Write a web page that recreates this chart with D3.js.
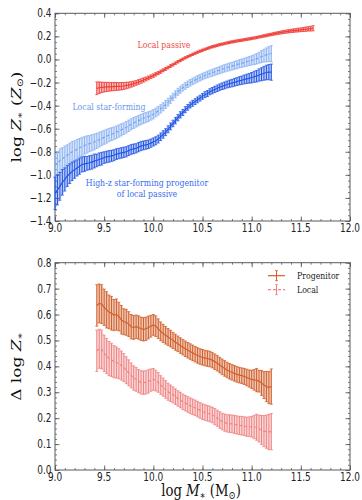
<!DOCTYPE html>
<html>
<head>
<meta charset="utf-8">
<script src="https://cdn.jsdelivr.net/npm/d3@7"></script>
<style>
  html, body { margin: 0; padding: 0; background: #fff; }
  svg { display: block; }
</style>
</head>
<body>
<svg id="chart" width="362" height="500"></svg>
<script>
// ---- stellar mass grids (log M*, Msun) ----
const massTop = [9.000,9.025,9.050,9.075,9.100,9.125,9.150,9.175,9.200,9.225,9.250,9.275,9.300,9.325,9.350,9.375,9.400,9.425,9.450,9.475,9.500,9.525,9.550,9.575,9.600,9.625,9.650,9.675,9.700,9.725,9.750,9.775,9.800,9.825,9.850,9.875,9.900,9.925,9.950,9.975,
  10.000,10.025,10.050,10.075,10.100,10.125,10.150,10.175,10.200,10.225,10.250,10.275,10.300,10.325,10.350,10.375,10.400,10.425,10.450,10.475,10.500,10.525,10.550,10.575,10.600,10.625,10.650,10.675,10.700,10.725,10.750,10.775,10.800,10.825,10.850,10.875,10.900,10.925,10.950,10.975,
  11.000,11.025,11.050,11.075,11.100,11.125,11.150,11.175,11.200];

const massPassive = [9.425,9.450,9.475,9.500,9.525,9.550,9.575,9.600,9.625,9.650,9.675,9.700,9.725,9.750,9.775,9.800,9.825,9.850,9.875,9.900,9.925,9.950,9.975,
  10.000,10.025,10.050,10.075,10.100,10.125,10.150,10.175,10.200,10.225,10.250,10.275,10.300,10.325,10.350,10.375,10.400,10.425,10.450,10.475,10.500,10.525,10.550,10.575,10.600,10.625,10.650,10.675,10.700,10.725,10.750,10.775,10.800,10.825,10.850,10.875,10.900,10.925,10.950,10.975,
  11.000,11.025,11.050,11.075,11.100,11.125,11.150,11.175,11.200,11.225,11.250,11.275,11.300,11.325,11.350,11.375,11.400,11.425,11.450,11.475,11.500,11.525,11.550,11.575,11.600,11.625];

const massBottom = [9.425,9.450,9.475,9.500,9.525,9.550,9.575,9.600,9.625,9.650,9.675,9.700,9.725,9.750,9.775,9.800,9.825,9.850,9.875,9.900,9.925,9.950,9.975,
  10.000,10.025,10.050,10.075,10.100,10.125,10.150,10.175,10.200,10.225,10.250,10.275,10.300,10.325,10.350,10.375,10.400,10.425,10.450,10.475,10.500,10.525,10.550,10.575,10.600,10.625,10.650,10.675,10.700,10.725,10.750,10.775,10.800,10.825,10.850,10.875,10.900,10.925,10.950,10.975,
  11.000,11.025,11.050,11.075,11.100,11.125,11.150,11.175,11.200];

// ---- top panel: stellar metallicity log Z* (Zsun) ----
const zPassive = [-0.25,-0.245,-0.242,-0.24,-0.238,-0.237,-0.236,-0.235,-0.234,-0.233,-0.232,-0.23,-0.226,-0.222,-0.216,-0.21,-0.203,-0.195,-0.187,-0.178,-0.169,-0.16,-0.15,
  -0.14,-0.129,-0.118,-0.106,-0.094,-0.082,-0.07,-0.057,-0.045,-0.032,-0.02,-0.008,0.003,0.014,0.024,0.034,0.044,0.054,0.063,0.072,0.08,0.088,0.096,0.103,0.11,0.116,0.122,0.128,0.133,0.138,0.143,0.148,0.152,0.156,0.16,0.164,0.167,0.171,0.175,0.178,
  0.182,0.186,0.19,0.195,0.199,0.204,0.208,0.213,0.217,0.222,0.226,0.23,0.234,0.238,0.241,0.244,0.247,0.25,0.252,0.255,0.257,0.26,0.262,0.265,0.267,0.27];
const errPassive = [0.055,0.05,0.045,0.042,0.04,0.038,0.036,0.035,0.034,0.033,0.032,0.03,0.028,0.026,0.024,0.022,0.021,0.02,0.019,0.018,0.017,0.016,0.016,
  0.015,0.015,0.014,0.014,0.013,0.013,0.012,0.012,0.012,0.011,0.011,0.011,0.01,0.01,0.01,0.01,0.01,0.01,0.01,0.01,0.01,0.01,0.01,0.01,0.01,0.01,0.01,0.01,0.01,0.01,0.01,0.01,0.01,0.01,0.01,0.01,0.01,0.01,0.01,0.01,
  0.01,0.01,0.01,0.01,0.01,0.011,0.011,0.011,0.011,0.012,0.012,0.012,0.013,0.013,0.013,0.014,0.014,0.015,0.015,0.016,0.016,0.017,0.018,0.019,0.02,0.022];

const zLocalSF = [-0.92,-0.9,-0.875,-0.86,-0.845,-0.83,-0.815,-0.8,-0.79,-0.778,-0.765,-0.755,-0.745,-0.737,-0.73,-0.722,-0.715,-0.705,-0.695,-0.685,-0.675,-0.665,-0.655,-0.648,-0.64,-0.63,-0.62,-0.61,-0.6,-0.588,-0.575,-0.562,-0.55,-0.54,-0.53,-0.52,-0.51,-0.503,-0.495,-0.486,
  -0.475,-0.46,-0.445,-0.428,-0.41,-0.39,-0.37,-0.348,-0.325,-0.302,-0.28,-0.262,-0.245,-0.23,-0.215,-0.202,-0.19,-0.179,-0.168,-0.158,-0.148,-0.139,-0.13,-0.122,-0.115,-0.107,-0.1,-0.092,-0.085,-0.077,-0.07,-0.064,-0.058,-0.051,-0.045,-0.038,-0.032,-0.026,-0.02,-0.014,
  -0.008,-0.002,0.005,0.015,0.025,0.033,0.04,0.046,0.05];
const errLocalSF = [0.10,0.10,0.10,0.095,0.095,0.09,0.09,0.09,0.085,0.085,0.08,0.08,0.075,0.075,0.07,0.07,0.068,0.066,0.064,0.062,0.06,0.06,0.058,0.056,0.055,0.054,0.053,0.052,0.05,0.05,0.05,0.048,0.048,0.046,0.045,0.045,0.044,0.043,0.042,0.04,
  0.04,0.038,0.037,0.036,0.035,0.034,0.033,0.032,0.031,0.03,0.03,0.03,0.029,0.029,0.028,0.028,0.028,0.028,0.028,0.028,0.028,0.028,0.029,0.029,0.03,0.03,0.03,0.031,0.031,0.032,0.032,0.033,0.033,0.034,0.035,0.035,0.036,0.037,0.038,0.039,
  0.04,0.042,0.045,0.048,0.052,0.056,0.06,0.065,0.07];

const zHighZ = [-1.16,-1.13,-1.10,-1.065,-1.04,-1.01,-0.99,-0.97,-0.955,-0.94,-0.925,-0.91,-0.905,-0.90,-0.895,-0.89,-0.88,-0.875,-0.865,-0.86,-0.85,-0.845,-0.84,-0.835,-0.83,-0.82,-0.815,-0.81,-0.805,-0.80,-0.79,-0.78,-0.775,-0.77,-0.76,-0.75,-0.745,-0.74,-0.735,-0.725,
  -0.715,-0.705,-0.69,-0.67,-0.65,-0.63,-0.605,-0.58,-0.555,-0.53,-0.505,-0.48,-0.46,-0.435,-0.415,-0.395,-0.38,-0.365,-0.35,-0.335,-0.32,-0.305,-0.295,-0.28,-0.27,-0.26,-0.25,-0.24,-0.232,-0.225,-0.217,-0.21,-0.205,-0.198,-0.192,-0.185,-0.18,-0.173,-0.168,-0.163,
  -0.158,-0.15,-0.145,-0.135,-0.128,-0.12,-0.113,-0.11,-0.11];
const errHighZ = [0.14,0.13,0.12,0.11,0.10,0.09,0.085,0.08,0.075,0.07,0.07,0.065,0.065,0.06,0.06,0.06,0.06,0.055,0.055,0.055,0.05,0.05,0.05,0.048,0.048,0.046,0.045,0.045,0.045,0.044,0.043,0.042,0.042,0.04,0.04,0.04,0.038,0.038,0.037,0.036,
  0.035,0.035,0.034,0.033,0.032,0.03,0.03,0.029,0.028,0.028,0.027,0.027,0.026,0.026,0.025,0.025,0.025,0.025,0.025,0.025,0.025,0.026,0.026,0.026,0.027,0.027,0.028,0.028,0.029,0.03,0.03,0.031,0.032,0.033,0.034,0.035,0.036,0.038,0.04,0.042,
  0.045,0.048,0.05,0.053,0.056,0.06,0.063,0.066,0.07];

// ---- bottom panel: metallicity offset from local passive, Δ log Z* ----
const dProgenitor = [0.635,0.643,0.64,0.628,0.618,0.61,0.605,0.598,0.6,0.592,0.58,0.572,0.57,0.563,0.553,0.55,0.553,0.55,0.545,0.543,0.545,0.55,0.555,
  0.56,0.555,0.545,0.535,0.527,0.52,0.513,0.507,0.5,0.493,0.487,0.48,0.474,0.468,0.462,0.457,0.452,0.447,0.442,0.438,0.435,0.432,0.43,0.428,0.424,0.418,0.412,0.405,0.398,0.392,0.386,0.381,0.377,0.373,0.369,0.366,0.364,0.361,0.357,0.353,
  0.35,0.348,0.347,0.343,0.336,0.328,0.322,0.318,0.322];
const errProgenitor = [0.08,0.075,0.075,0.07,0.07,0.065,0.065,0.06,0.06,0.055,0.055,0.05,0.05,0.048,0.047,0.046,0.045,0.045,0.045,0.045,0.045,0.044,0.042,
  0.04,0.04,0.038,0.036,0.035,0.034,0.033,0.032,0.031,0.031,0.03,0.03,0.03,0.03,0.03,0.03,0.03,0.03,0.03,0.03,0.03,0.03,0.03,0.03,0.03,0.03,0.03,0.03,0.03,0.03,0.03,0.03,0.03,0.03,0.03,0.03,0.03,0.031,0.032,0.033,
  0.035,0.04,0.045,0.042,0.048,0.052,0.058,0.062,0.068];

const dLocal = [0.46,0.468,0.465,0.45,0.44,0.43,0.425,0.418,0.415,0.41,0.403,0.395,0.385,0.375,0.365,0.355,0.35,0.343,0.338,0.337,0.338,0.342,0.347,
  0.35,0.345,0.338,0.328,0.32,0.311,0.302,0.296,0.29,0.283,0.276,0.27,0.263,0.258,0.253,0.248,0.244,0.24,0.235,0.23,0.225,0.222,0.219,0.216,0.212,0.206,0.2,0.193,0.187,0.183,0.18,0.179,0.178,0.176,0.174,0.172,0.171,0.169,0.167,0.167,
  0.167,0.166,0.165,0.16,0.154,0.15,0.148,0.147,0.148];
const errLocal = [0.08,0.075,0.075,0.07,0.068,0.066,0.064,0.062,0.06,0.058,0.056,0.054,0.052,0.05,0.048,0.047,0.046,0.045,0.045,0.045,0.045,0.045,0.043,
  0.042,0.04,0.038,0.036,0.035,0.034,0.033,0.032,0.031,0.03,0.03,0.03,0.03,0.03,0.03,0.03,0.03,0.03,0.03,0.03,0.03,0.03,0.03,0.03,0.03,0.031,0.031,0.032,0.032,0.033,0.033,0.034,0.034,0.035,0.035,0.035,0.036,0.036,0.037,0.038,
  0.04,0.045,0.05,0.052,0.056,0.06,0.064,0.068,0.07];

// ---- ticks ----
const xTicks = [9.0, 9.5, 10.0, 10.5, 11.0, 11.5, 12.0];
const xTickLabels = ["9.0", "9.5", "10.0", "10.5", "11.0", "11.5", "12.0"];
const yTopTicks = [-1.4, -1.2, -1.0, -0.8, -0.6, -0.4, -0.2, 0.0, 0.2, 0.4];
const yTopTickLabels = ["\u22121.4", "\u22121.2", "\u22121.0", "\u22120.8", "\u22120.6", "\u22120.4", "\u22120.2", "0.0", "0.2", "0.4"];
const yBotTicks = [0.0, 0.1, 0.2, 0.3, 0.4, 0.5, 0.6, 0.7, 0.8];
const yBotTickLabels = ["0.0", "0.1", "0.2", "0.3", "0.4", "0.5", "0.6", "0.7", "0.8"];

// ---- styling ----
const C = {
  passive: "#ef3d37",
  localSF: "#8fb5f3",
  localSFLine: "#78a4ee",
  highz: "#2256e6",
  prog: "#d25e2a",
  local: "#f08282",
  frame: "#5a5a5a"
};
const SX = 0.78;           // horizontal text condensation
const SANS = "'DejaVu Sans', sans-serif";
const SERIF = "'DejaVu Serif', 'Liberation Serif', serif";

const svg = d3.select("#chart");
const L = 55, R = 350;
const panels = {
  top: { y0: 13.3, y1: 221 },
  bot: { y0: 262.7, y1: 470 }
};

const x = d3.scaleLinear().domain([9, 12]).range([L, R]);
const yTop = d3.scaleLinear().domain([-1.4, 0.4]).range([panels.top.y1, panels.top.y0]);
const yBot = d3.scaleLinear().domain([0, 0.8]).range([panels.bot.y1, panels.bot.y0]);

function textAt(g, px, py, opts) {
  const t = g.append("text")
    .attr("transform", `translate(${px},${py})` + (opts.rotate ? " rotate(-90) scale(1," + SX + ")" : ` scale(${SX},1)`))
    .attr("font-family", opts.family || SANS)
    .attr("font-size", opts.size || 11)
    .attr("fill", opts.fill || "#222")
    .attr("text-anchor", opts.anchor || "middle");
  if (opts.text !== undefined) t.text(opts.text);
  return t;
}

function drawFrame(yScale, yTicks, yLabels, yMinorCount) {
  const g = svg.append("g");
  const [ya, yb] = yScale.range();
  const minorX = x.ticks(30);
  const minorY = yScale.ticks(yMinorCount);
  // ticks on all four sides, pointing inward
  const axes = [
    [d3.axisBottom(x), `translate(0,${ya})`, minorX, xTicks],
    [d3.axisTop(x), `translate(0,${yb})`, minorX, xTicks],
    [d3.axisLeft(yScale), `translate(${L},0)`, minorY, yTicks],
    [d3.axisRight(yScale), `translate(${R},0)`, minorY, yTicks]
  ];
  axes.forEach(([ax, tr, minor, major]) => {
    const gm = g.append("g").attr("transform", tr)
      .call(ax.tickValues(minor).tickSize(-2).tickFormat(""));
    gm.select(".domain").remove();
    gm.selectAll("line").attr("stroke", C.frame).attr("stroke-width", 0.8);
    const gM = g.append("g").attr("transform", tr)
      .call(ax.tickValues(major).tickSize(-4.5).tickFormat(""));
    gM.select(".domain").remove();
    gM.selectAll("line").attr("stroke", C.frame).attr("stroke-width", 0.9);
  });
  g.append("rect")
    .attr("x", L).attr("y", yb).attr("width", R - L).attr("height", ya - yb)
    .attr("fill", "none").attr("stroke", C.frame).attr("stroke-width", 1);
  // tick labels
  xTicks.forEach((v, i) => textAt(g, x(v), ya + 11, { text: xTickLabels[i], size: 11.5 }));
  yTicks.forEach((v, i) => textAt(g, L - 3.5, yScale(v) + 4, { text: yLabels[i], size: 11.5, anchor: "end" }));
  return g;
}

function errSeries(g, ms, vs, es, yScale, color, lineColor, dash, bandOpacity) {
  const d = ms.map((m, i) => ({ m, v: vs[i], e: es[i] }));
  g.append("path").datum(d)
    .attr("d", d3.area().x(p => x(p.m)).y0(p => yScale(p.v - p.e)).y1(p => yScale(p.v + p.e)))
    .attr("fill", color).attr("opacity", bandOpacity);
  g.append("g").selectAll("line").data(d).join("line")
    .attr("x1", p => x(p.m)).attr("x2", p => x(p.m))
    .attr("y1", p => yScale(p.v - p.e)).attr("y2", p => yScale(p.v + p.e))
    .attr("stroke", color).attr("stroke-width", 1);
  ["lo", "hi"].forEach(side => {
    g.append("g").selectAll("line").data(d).join("line")
      .attr("x1", p => x(p.m) - 1.5).attr("x2", p => x(p.m) + 1.5)
      .attr("y1", p => yScale(side === "lo" ? p.v - p.e : p.v + p.e))
      .attr("y2", p => yScale(side === "lo" ? p.v - p.e : p.v + p.e))
      .attr("stroke", color).attr("stroke-width", 0.8);
  });
  g.append("path").datum(d)
    .attr("d", d3.line().x(p => x(p.m)).y(p => yScale(p.v)))
    .attr("fill", "none").attr("stroke", lineColor).attr("stroke-width", 1.2)
    .attr("stroke-dasharray", dash || null);
}

// ================= top panel =================
drawFrame(yTop, yTopTicks, yTopTickLabels, 36);
const gTop = svg.append("g");
errSeries(gTop, massTop, zLocalSF, errLocalSF, yTop, C.localSF, C.localSFLine, "3,2", 0.35);
errSeries(gTop, massTop, zHighZ, errHighZ, yTop, C.highz, C.highz, null, 0.3);
errSeries(gTop, massPassive, zPassive, errPassive, yTop, C.passive, C.passive, null, 0.3);

textAt(gTop, 164, 47.5, { text: "Local passive", family: SERIF, size: 10, fill: "#ee4a44" });
textAt(gTop, 109, 109.5, { text: "Local star-forming", family: SERIF, size: 10, fill: "#6b98ec" });
textAt(gTop, 147, 186, { text: "High-z star-forming progenitor", family: SERIF, size: 10, fill: "#3a6cf0" });
textAt(gTop, 147, 196.5, { text: "of local passive", family: SERIF, size: 10, fill: "#3a6cf0" });

// y label: log Z* (Zsun)
{
  const t = textAt(svg, 21, (panels.top.y0 + panels.top.y1) / 2, { rotate: true, family: SERIF, size: 17, fill: "#111" });
  t.append("tspan").text("log ");
  t.append("tspan").attr("font-style", "italic").text("Z");
  t.append("tspan").attr("font-size", 11).attr("dy", 3).text("\u2217");
  t.append("tspan").attr("dy", -3).text(" (");
  t.append("tspan").attr("font-style", "italic").text("Z");
  t.append("tspan").attr("font-size", 11).attr("dy", 3).text("\u2299");
  t.append("tspan").attr("dy", -3).text(")");
}

// ================= bottom panel =================
drawFrame(yBot, yBotTicks, yBotTickLabels, 40);
const gBot = svg.append("g");
errSeries(gBot, massBottom, dLocal, errLocal, yBot, C.local, C.local, "3,2", 0.3);
errSeries(gBot, massBottom, dProgenitor, errProgenitor, yBot, C.prog, C.prog, null, 0.35);

// legend
const legend = [
  { label: "Progenitor", color: C.prog, dash: null, y: 275.7 },
  { label: "Local", color: C.local, dash: "3,2", y: 289.7 }
];
legend.forEach(it => {
  const g = svg.append("g");
  g.append("line").attr("x1", 268).attr("x2", 285).attr("y1", it.y).attr("y2", it.y)
    .attr("stroke", it.color).attr("stroke-width", 1.2).attr("stroke-dasharray", it.dash);
  g.append("line").attr("x1", 276.5).attr("x2", 276.5).attr("y1", it.y - 5).attr("y2", it.y + 5)
    .attr("stroke", it.color).attr("stroke-width", 1);
  [-5, 5].forEach(o => g.append("line").attr("x1", 275).attr("x2", 278)
    .attr("y1", it.y + o).attr("y2", it.y + o).attr("stroke", it.color).attr("stroke-width", 0.8));
  textAt(g, 297, it.y + 3.5, { text: it.label, family: SERIF, size: 10, anchor: "start", fill: "#222" });
});

// y label: Δ log Z*
{
  const t = textAt(svg, 21, (panels.bot.y0 + panels.bot.y1) / 2, { rotate: true, family: SERIF, size: 17, fill: "#111" });
  t.append("tspan").text("\u0394 log ");
  t.append("tspan").attr("font-style", "italic").text("Z");
  t.append("tspan").attr("font-size", 11).attr("dy", 3).text("\u2217");
}

// x label: log M* (Msun)
{
  const t = textAt(svg, 201, 496, { family: SERIF, size: 17, fill: "#111" });
  t.append("tspan").text("log ");
  t.append("tspan").attr("font-style", "italic").text("M");
  t.append("tspan").attr("font-size", 11).attr("dy", 3).text("\u2217");
  t.append("tspan").attr("dy", -3).text(" (M");
  t.append("tspan").attr("font-size", 11).attr("dy", 3).text("\u2299");
  t.append("tspan").attr("dy", -3).text(")");
}
</script>
</body>
</html>
